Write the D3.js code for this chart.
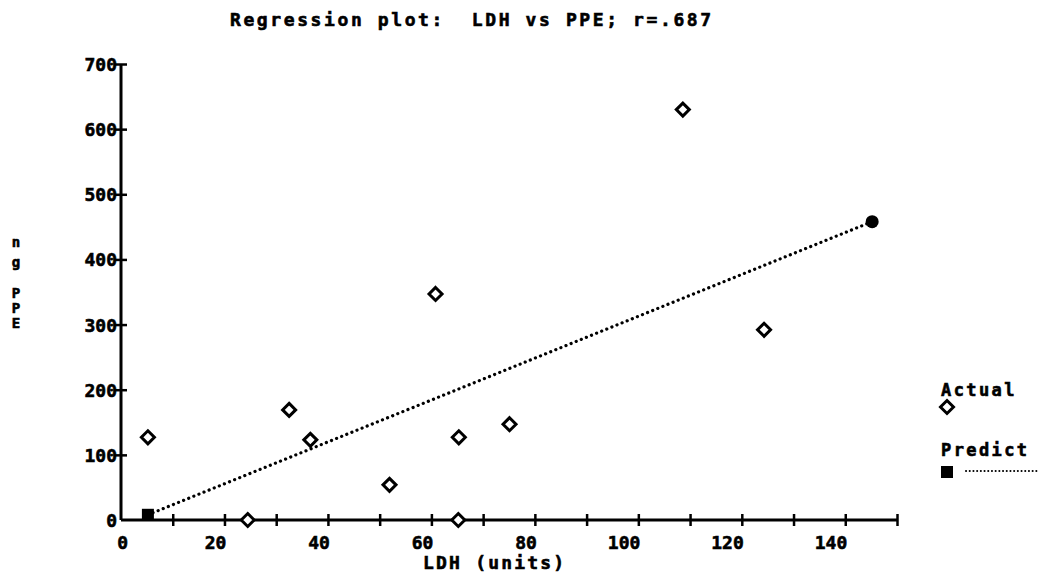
<!DOCTYPE html>
<html>
<head>
<meta charset="utf-8">
<script src="https://cdn.jsdelivr.net/npm/d3@7"></script>
<style>
  body { margin: 0; background: #fff; }
  svg text { font-family: "DejaVu Sans Mono", monospace; font-weight: bold; fill: #000;
             stroke: #000; stroke-width: 0.6px; white-space: pre; }
</style>
</head>
<body>
<div class="displayArea"></div>
<script>
// data
var ldh = [5.2, 24.5, 32.5, 36.6, 51.9, 60.8, 65.2, 65.3, 75.1, 108.6, 124.3]
var ppe = [127, 0, 169, 123, 54, 347, 0, 127, 147, 630, 292]
var predX = [5.2, 145.2]
var predY = [8, 458]
var xTicks = [0, 10, 20, 30, 40, 50, 60, 70, 80, 90, 100, 110, 120, 130, 140, 150]
var xLabels = [0, 20, 40, 60, 80, 100, 120, 140]
var yTicks = [0, 100, 200, 300, 400, 500, 600, 700]

var width = 1039, height = 575

var xScale = d3.scaleLinear().domain([0, 150]).range([121, 897])
var yScale = d3.scaleLinear().domain([0, 700]).range([520, 64])

var svg = d3.select(".displayArea").append("svg")
    .attr("width", width)
    .attr("height", height)

// title (two spaces after the colon, like the printout)
svg.append("text")
    .attr("x", 230).attr("y", 26)
    .style("font-size", "18px")
    .style("letter-spacing", "2.6px")
    .text("Regression plot:  LDH vs PPE; r=.687")

// x axis
var xAxis = d3.axisBottom(xScale).tickValues(xTicks).tickSize(6).tickFormat("")
var gx = svg.append("g").attr("transform", `translate(0,${yScale(0)})`).call(xAxis)
gx.select(".domain").attr("stroke-width", 3).attr("d", `M${xScale(0)},0H${xScale(150)}`)
gx.selectAll(".tick line").attr("y1", -6).attr("y2", 6).attr("stroke-width", 2.5)
gx.selectAll(".tick").filter(function (d) { return d == 0 }).remove()

svg.selectAll(".xlab").data(xLabels).enter().append("text")
    .attr("class", "xlab")
    .attr("x", function (d) { return d == 0 ? xScale(d) + 7 : xScale(d) + 2 })
    .attr("y", 549)
    .attr("text-anchor", "end")
    .style("font-size", "18px")
    .text(function (d) { return d })

// y axis
var yAxis = d3.axisLeft(yScale).tickValues(yTicks).tickSize(6).tickFormat("")
var gy = svg.append("g").attr("transform", `translate(${xScale(0)},0)`).call(yAxis)
gy.select(".domain").attr("stroke-width", 3).attr("d", `M0,${yScale(0)}V${yScale(700)}`)
gy.selectAll(".tick line").attr("x1", -6).attr("x2", 6).attr("stroke-width", 2.5)
gy.selectAll(".tick").filter(function (d) { return d == 0 }).select("line").remove()

svg.selectAll(".ylab").data(yTicks).enter().append("text")
    .attr("class", "ylab")
    .attr("x", 117)
    .attr("y", function (d) { return yScale(d) + 7 })
    .attr("text-anchor", "end")
    .style("font-size", "18px")
    .text(function (d) { return d })

// axis titles
svg.append("text")
    .attr("x", 423).attr("y", 569)
    .style("font-size", "18px")
    .style("letter-spacing", "2.2px")
    .text("LDH (units)")

var yTitle = ["n", "g", "P", "P", "E"]
var yTitleY = [247, 267, 298, 313, 328]
svg.selectAll(".ytit").data(yTitle).enter().append("text")
    .attr("class", "ytit")
    .attr("x", 16)
    .attr("y", function (d, i) { return yTitleY[i] })
    .attr("text-anchor", "middle")
    .style("font-size", "14px")
    .text(function (d) { return d })

// regression line (dotted)
svg.append("line")
    .attr("x1", xScale(predX[0])).attr("y1", yScale(predY[0]))
    .attr("x2", xScale(predX[1])).attr("y2", yScale(predY[1]))
    .attr("stroke", "#000")
    .attr("stroke-width", 3.2)
    .attr("stroke-linecap", "round")
    .attr("stroke-dasharray", "0.1,5.4")

svg.append("rect")
    .attr("x", xScale(predX[0]) - 6).attr("y", yScale(predY[0]) - 6)
    .attr("width", 12).attr("height", 12)
    .attr("fill", "#000")
svg.append("circle")
    .attr("cx", xScale(predX[1])).attr("cy", yScale(predY[1]))
    .attr("r", 6.5)
    .attr("fill", "#000")

// actual points (diamonds)
var diamond = "M0,-6.5L6.5,0L0,6.5L-6.5,0Z"
svg.selectAll(".pt").data(ppe).enter().append("path")
    .attr("class", "pt")
    .attr("d", diamond)
    .attr("transform", function (d, i) { return `translate(${xScale(ldh[i])},${yScale(d)})` })
    .attr("fill", "#fff")
    .attr("stroke", "#000")
    .attr("stroke-width", 3)

// legend
svg.append("text").attr("x", 941).attr("y", 396)
    .style("font-size", "17px").style("letter-spacing", "2.4px").text("Actual")
svg.append("path").attr("d", diamond)
    .attr("transform", "translate(947,407)")
    .attr("fill", "#fff").attr("stroke", "#000").attr("stroke-width", 3)
svg.append("text").attr("x", 941).attr("y", 456)
    .style("font-size", "17px").style("letter-spacing", "2.4px").text("Predict")
svg.append("rect").attr("x", 941).attr("y", 466).attr("width", 12).attr("height", 12).attr("fill", "#000")
svg.append("line")
    .attr("x1", 966).attr("y1", 471).attr("x2", 1039).attr("y2", 471)
    .attr("stroke", "#000").attr("stroke-width", 2)
    .attr("stroke-linecap", "round")
    .attr("stroke-dasharray", "0.1,3.6")
</script>
</body>
</html>
